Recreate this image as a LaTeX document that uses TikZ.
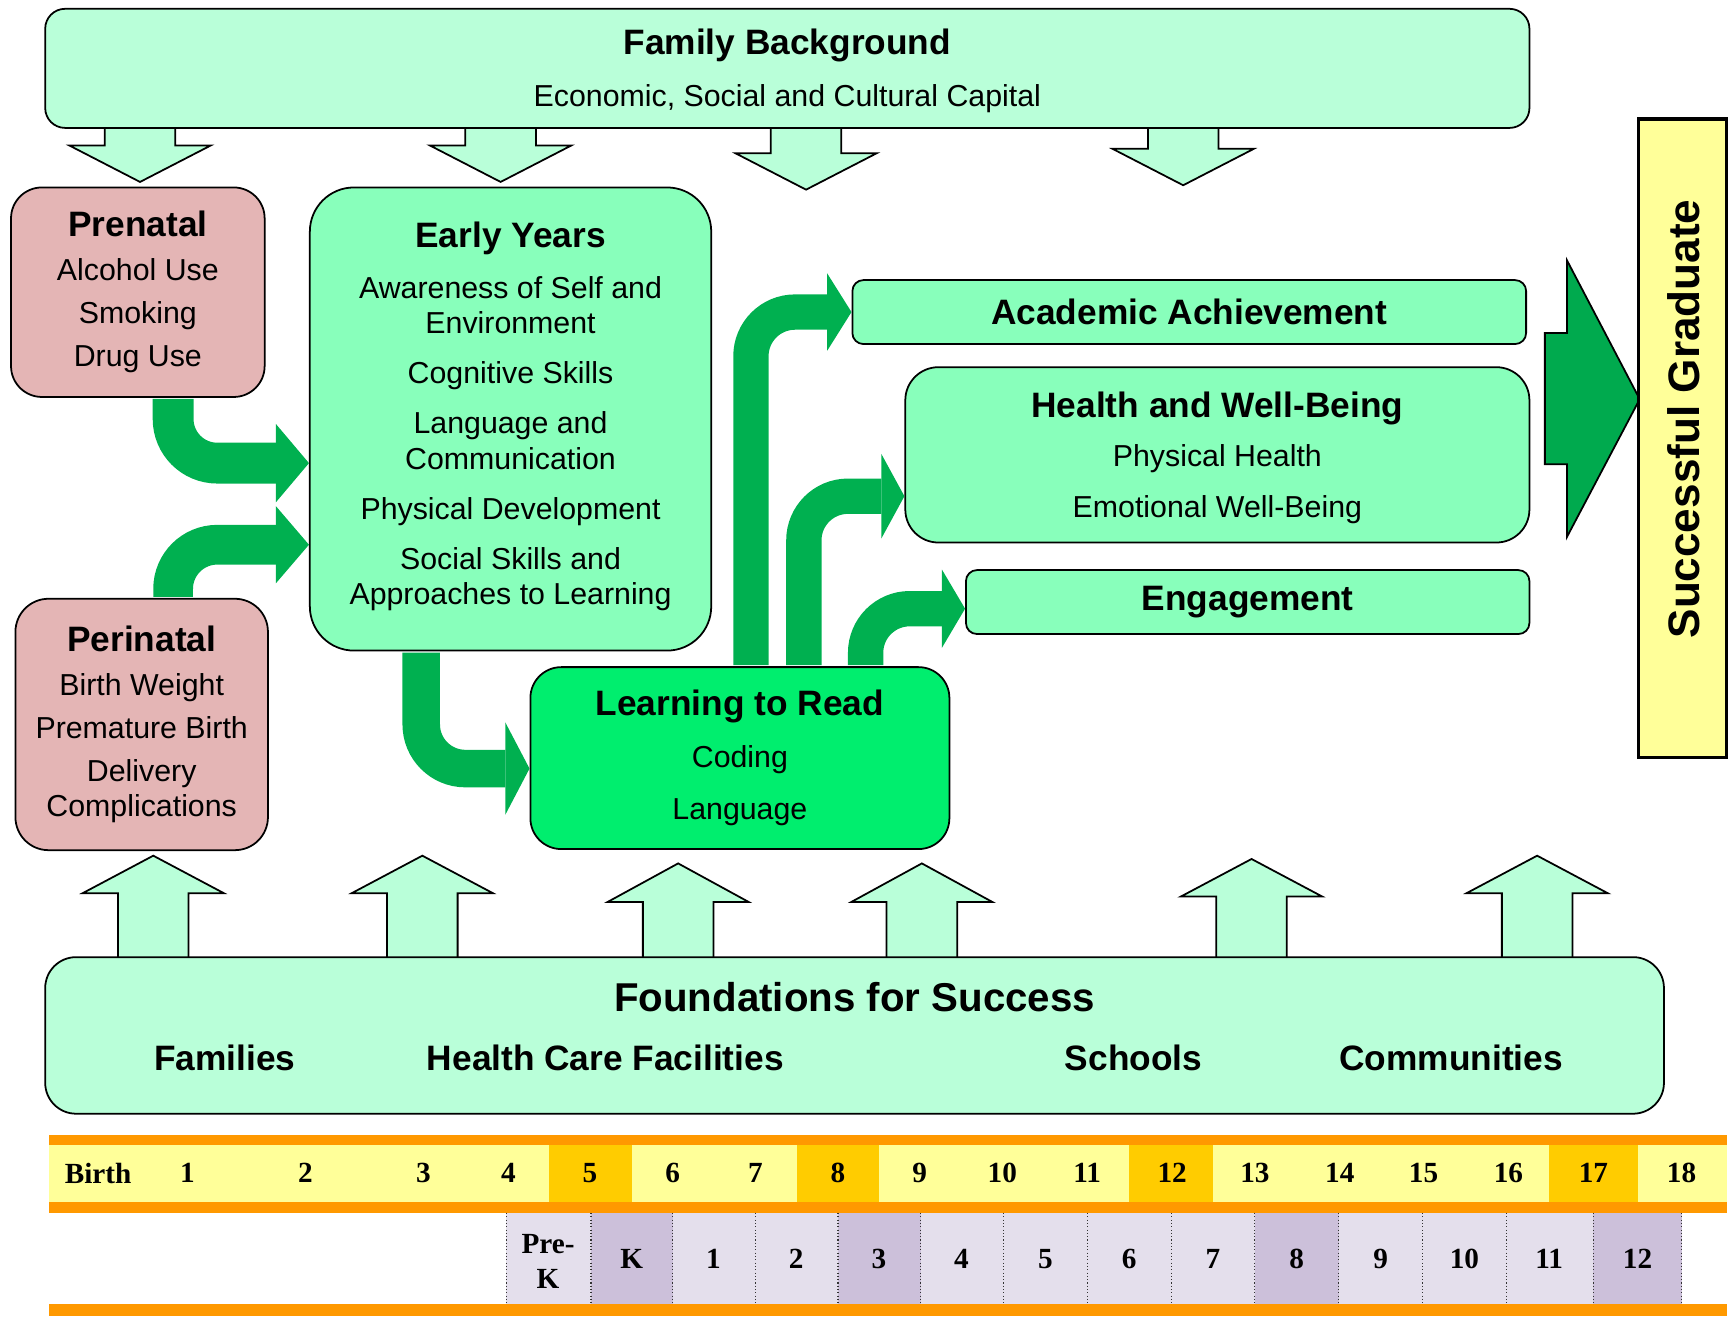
\documentclass[tikz,border=0pt]{standalone}
\usepackage{fontspec}
\setmainfont{Liberation Sans}
\newfontfamily\agefont{Liberation Serif}
\usetikzlibrary{arrows.meta}

\definecolor{paleMint}{HTML}{B9FFD9}
\definecolor{mint}{HTML}{88FFBB}
\definecolor{readGreen}{HTML}{00EE6E}
\definecolor{flowGreen}{HTML}{00B050}
\definecolor{gradGreen}{HTML}{00AA4E}
\definecolor{riskPink}{HTML}{E4B5B5}
\definecolor{paleYellow}{HTML}{FFFF99}
\definecolor{gold}{HTML}{FFCC00}
\definecolor{barOrange}{HTML}{FF9900}
\definecolor{gradeLight}{HTML}{E4DFEC}
\definecolor{gradeDark}{HTML}{CCC0DA}

\newcommand\boxtitle{\fontsize{32}{36}\selectfont\bfseries}

\begin{document}
\begin{tikzpicture}[
            x=1pt,y=-1pt,
            box/.style={
                draw,line width=1.6pt,rounded corners=#1,inner sep=0pt,
                align=center,font=\fontsize{27.5}{32}\selectfont
            },
            softarrow/.style={draw,line width=1.6pt,fill=paleMint,line join=miter},
            flow/.style n args={3}{
                draw=flowGreen,line width=#1,rounded corners=40pt,shorten <=1pt,
                -{Triangle[length=#2,width=#3,line width=0pt]}
            },
            age/.style={font=\agefont\fontsize{26.5}{30}\selectfont\bfseries,inner sep=0pt,align=center}
        ]
    \useasboundingbox (0,0) rectangle (1568,1196);
    % Block arrows
    \foreach \x/\b/\t in {127/132/165,454/132/165,731/139/172,1073/135/168}{
        \draw[softarrow] (\x-32,116) -- (\x-32,\b) -- (\x-64,\b) -- (\x,\t) -- (\x+64,\b) -- (\x+32,\b) -- (\x+32,116);
    }
    \foreach \x/\b/\t in {139/810/776,383/810/776,615/818/783,836/818/783,1135/813/779,1394/810/776}{
        \draw[softarrow] (\x-32,868) -- (\x-32,\b) -- (\x-64,\b) -- (\x,\t) -- (\x+64,\b) -- (\x+32,\b) -- (\x+32,868);
    }
    \draw[line width=1.6pt,fill=gradGreen,line join=miter] (1401,302) -- (1421,302) -- (1421,236) -- (1487,362)
        -- (1421,487) -- (1421,421) -- (1401,421) -- cycle;
    % Boxes
    \node[box=18pt,fill=paleMint,minimum width=1346pt,minimum height=108pt] (family) at (714,62)
        {{\boxtitle\rule{0pt}{27.5pt}Family Background}\\[15pt]Economic, Social and Cultural Capital};
    \node[box=28pt,fill=riskPink,minimum width=230pt,minimum height=190pt] (pre) at (125,265)
        {{\boxtitle Prenatal}\\[8pt]Alcohol Use\\[7pt]Smoking\\[7pt]Drug Use};
    \node[box=30pt,fill=riskPink,minimum width=229pt,minimum height=228pt] (peri) at (128.5,657)
        {{\boxtitle Perinatal}\\[8pt]Birth Weight\\[7pt]Premature Birth\\[7pt]Delivery\\Complications};
    \node[box=40pt,fill=mint,minimum width=364pt,minimum height=420pt] (early) at (463,380)
        {{\boxtitle Early Years}\\[13.5pt]Awareness of Self and\\Environment\\[13.5pt]Cognitive Skills\\[13.5pt]Language and\\Communication\\[13.5pt]Physical Development\\[13.5pt]Social Skills and\\Approaches to Learning\rule[-10pt]{0pt}{1pt}};
    \node[box=28pt,fill=readGreen,minimum width=380pt,minimum height=165pt] (ltr) at (671,687.5)
        {{\boxtitle Learning to Read}\\[15pt]Coding\\[15pt]Language};
    \node[box=10pt,fill=mint,minimum width=611pt,minimum height=58pt,font=\boxtitle] (acad) at (1078.5,283) {Academic Achievement};
    \node[box=30pt,fill=mint,minimum width=566pt,minimum height=159pt] (health) at (1104,412.5)
        {{\boxtitle\rule{0pt}{28.5pt}Health and Well-Being}\\[13pt]Physical Health\\[14pt]Emotional Well-Being};
    \node[box=10pt,fill=mint,minimum width=511pt,minimum height=58pt,font=\boxtitle] (engage) at (1131.5,546) {Engagement};
    \node[draw,line width=3pt,fill=paleYellow,minimum width=80pt,minimum height=579pt] (grad) at (1526,397.5) {};
    \node[rotate=90,font=\fontsize{40}{44}\selectfont\bfseries] (gradText) at (1527,380) {Successful Graduate};
    \node[box=28pt,fill=paleMint,minimum width=1468pt,minimum height=142pt] (found) at (775,939) {};
    \node[font=\fontsize{36.5}{40}\selectfont\bfseries] (foundTitle) at (775,904) {Foundations for Success};
    \foreach \x/\t/\n in {204/Families/fam,549/Health Care Facilities/care,1028/Schools/school,1316/Communities/comm}{
        \node[font=\boxtitle] (\n) at (\x,959) {\t};
    }
    % Flows
    \draw[flow={37pt}{30pt}{71pt}] ([xshift=32pt]pre.south) |- ([yshift=-40pt]early.west);
    \draw[flow={36pt}{30pt}{70pt}] ([xshift=28.5pt]peri.north) |- ([yshift=-114pt]early.west);
    \draw[flow={34pt}{22pt}{84pt}] ([xshift=-81pt]early.south) |- ([yshift=-9.5pt]ltr.west);
    \draw[flow={32pt}{22pt}{70pt}] ([xshift=10pt]ltr.north) |- (acad.west);
    \draw[flow={32pt}{21pt}{77pt}] ([xshift=58pt]ltr.north) |- ([yshift=-37.5pt]health.west);
    \draw[flow={32pt}{21pt}{71pt}] ([xshift=114pt]ltr.north) |- ([yshift=-6pt]engage.west);
    % Timeline
    \fill[barOrange] (44,1029) rectangle (1566,1038);
    \fill[paleYellow] (44,1038) rectangle (1566,1090);
    \foreach \a/\b in {498/573,723/797,1024/1100,1405/1485}{
        \fill[gold] (\a,1038) rectangle (\b,1090);
    }
    \fill[barOrange] (44,1090) rectangle (1566,1100);
    \fill[barOrange] (44,1183) rectangle (1566,1193);
    \foreach \a/\b/\c in {459/536/gradeLight,536/610/gradeDark,610/685/gradeLight,685/760/gradeLight,
        760/835/gradeDark,835/910/gradeLight,910/986/gradeLight,986/1062/gradeLight,1062/1138/gradeLight,
        1138/1214/gradeDark,1214/1290/gradeLight,1290/1366/gradeLight,1366/1445/gradeLight,1445/1525/gradeDark}{
        \fill[\c] (\a,1100) rectangle (\b,1183);
    }
    \foreach \a in {459,536,610,685,760,835,910,986,1062,1138,1214,1290,1366,1445,1525}{
        \draw[dotted,line width=1pt,black!80] (\a,1100) -- (\a,1183);
    }
    % Labels
    \foreach \x/\t [count=\i] in {89/Birth,170/1,277/2,384/3,461/4,535/5,610/6,685/7,760/8,834/9,
        909/10,986/11,1063/12,1138/13,1215/14,1291/15,1368/16,1445/17,1525/18}{
        \node[age] (age\i) at (\x,1064) {\t};
    }
    \node[age] (gradePreK) at (497,1144) {Pre-\\[2pt]K};
    \foreach \x/\t [count=\i] in {573/K,647/1,722/2,797/3,872/4,948/5,1024/6,1100/7,
        1176/8,1252/9,1328/10,1405/11,1485/12}{
        \node[age] (grade\i) at (\x,1142) {\t};
    }
    \end{tikzpicture}
\end{document}
